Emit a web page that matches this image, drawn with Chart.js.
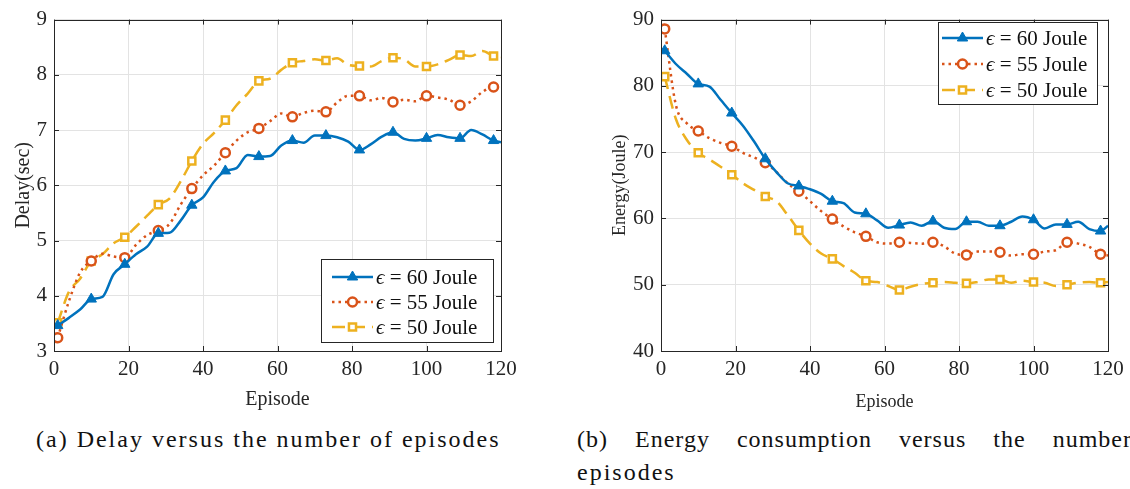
<!DOCTYPE html>
<html>
<head>
<meta charset="utf-8">
<script src="https://cdn.jsdelivr.net/npm/chart.js@4/dist/chart.umd.min.js"></script>
<style>
    body { margin: 0; background: #fff; width: 1130px; height: 489px; overflow: hidden; position: relative; }
    canvas { position: absolute; top: 0; }
    #DelayGraph { left: 0; }
    #EnergyGraph { left: 565px; }
    .caption { position: absolute; font-family: "Liberation Serif", "DejaVu Serif", serif; font-size: 24px; letter-spacing: 2px; color: #111; line-height: 33px; white-space: nowrap; }
    #CaptionA { left: 36px; top: 423px; }
    #CaptionB { left: 577px; top: 423px; width: 555px; white-space: normal; }
    #CaptionB .first { display: block; text-align: justify; text-align-last: justify; letter-spacing: 1px; }
</style>
</head>
<body>
<canvas id="DelayGraph" width="560" height="420"></canvas>
<canvas id="EnergyGraph" width="565" height="420"></canvas>
<div class="caption" id="CaptionA">(a) Delay versus the number of episodes</div>
<div class="caption" id="CaptionB"><span class="first">(b) Energy consumption versus the number</span>episodes</div>

<script>
var episodes = [1, 4, 7, 10, 13, 16, 19, 22, 25, 28, 31, 34, 37, 40, 43, 46, 49, 52, 55, 58,
    61, 64, 67, 70, 73, 76, 79, 82, 85, 88, 91, 94, 97, 100, 103, 106, 109, 112, 115, 118, 120];

var seriesLabels = ["\u03f5 = 60 Joule", "\u03f5 = 55 Joule", "\u03f5 = 50 Joule"];

var delay60 = [3.46, 3.6, 3.75, 3.94, 3.98, 4.39, 4.57, 4.75, 4.89, 5.13, 5.14, 5.36, 5.64, 5.78, 6.07, 6.26, 6.31, 6.55, 6.52, 6.53,
    6.72, 6.81, 6.77, 6.9, 6.9, 6.87, 6.79, 6.64, 6.74, 6.88, 6.96, 6.84, 6.81, 6.85, 6.91, 6.87, 6.85, 7.0, 6.92, 6.81, 6.78];
var delay55 = [3.24, 3.9, 4.42, 4.63, 4.76, 4.71, 4.69, 4.92, 5.1, 5.18, 5.3, 5.65, 5.94, 6.18, 6.36, 6.59, 6.81, 6.96, 7.03, 7.16,
    7.3, 7.24, 7.31, 7.35, 7.33, 7.5, 7.62, 7.62, 7.54, 7.58, 7.51, 7.55, 7.52, 7.62, 7.59, 7.55, 7.45, 7.52, 7.69, 7.78, 7.77];
var delay50 = [3.51, 4.07, 4.31, 4.63, 4.75, 4.95, 5.06, 5.25, 5.45, 5.65, 5.76, 6.07, 6.44, 6.75, 6.95, 7.18, 7.45, 7.66, 7.89, 7.93,
    8.09, 8.22, 8.25, 8.28, 8.26, 8.3, 8.18, 8.16, 8.15, 8.25, 8.31, 8.28, 8.15, 8.15, 8.19, 8.27, 8.36, 8.34, 8.43, 8.34, 8.32];

var energy60 = [85.3, 83.3, 81.8, 80.3, 79.9, 77.9, 75.9, 74.0, 71.6, 69.0, 67.0, 65.3, 64.9, 64.4, 63.7, 62.6, 62.3, 60.9, 60.7, 59.7,
    58.6, 59.0, 59.4, 58.9, 59.6, 58.6, 58.4, 59.5, 59.5, 58.9, 58.9, 59.5, 60.3, 59.8, 58.5, 59.1, 59.1, 59.5, 58.4, 58.1, 58.9];
var energy55 = [88.6, 77.1, 74.3, 73.2, 72.1, 71.4, 70.9, 69.9, 69.2, 68.4, 67.0, 65.3, 64.1, 62.6, 61.1, 59.9, 58.8, 57.9, 57.3, 56.4,
    56.2, 56.4, 56.3, 56.2, 56.4, 55.8, 54.7, 54.5, 55.0, 55.0, 54.9, 54.4, 54.6, 54.6, 55.0, 55.2, 56.4, 56.2, 55.7, 54.6, 54.4];
var energy50 = [81.4, 75.0, 71.8, 69.9, 68.9, 67.8, 66.6, 65.3, 64.3, 63.3, 62.6, 60.5, 58.2, 56.2, 54.7, 53.9, 52.8, 51.8, 50.6, 50.4,
    49.8, 49.2, 49.7, 50.1, 50.3, 50.4, 50.3, 50.2, 50.4, 50.8, 50.8, 50.3, 50.6, 50.4, 50.3, 49.8, 50.0, 50.3, 50.4, 50.3, 50.4];

var xTicks = [0, 20, 40, 60, 80, 100, 120];
var delayTicks = [3, 4, 5, 6, 7, 8, 9];
var energyTicks = [40, 50, 60, 70, 80, 90];

var BLUE = "#0072BD";
var RED = "#D95319";
var YELLOW = "#EDB120";
var AXIS = "#262626";
var FONT = '"Liberation Serif", "DejaVu Serif", serif';

function makePoints(values) {
    return values.map(function (v, i) {
        return { x: episodes[i], y: v };
    });
}

// marker on every 9th episode (1, 10, 19, ...)
function markerRadius(size) {
    return function (ctx) {
        var ep = episodes[ctx.dataIndex];
        return (ep - 1) % 9 === 0 ? size : 0;
    };
}

function makeDatasets(v60, v55, v50) {
    return [{
        label: seriesLabels[0],
        data: makePoints(v60),
        borderColor: BLUE,
        backgroundColor: BLUE,
        borderWidth: 2.5,
        pointStyle: "triangle",
        pointRadius: markerRadius(6),
        pointBorderWidth: 1,
        pointBackgroundColor: BLUE,
        cubicInterpolationMode: "monotone"
    },
    {
        label: seriesLabels[1],
        data: makePoints(v55),
        borderColor: RED,
        backgroundColor: "#fff",
        borderWidth: 2.5,
        borderDash: [2.5, 4],
        pointStyle: "circle",
        pointRadius: markerRadius(4.5),
        pointBorderWidth: 2.5,
        pointBackgroundColor: "#fff",
        cubicInterpolationMode: "monotone"
    },
    {
        label: seriesLabels[2],
        data: makePoints(v50),
        borderColor: YELLOW,
        backgroundColor: "#fff",
        borderWidth: 2.5,
        borderDash: [13, 7],
        pointStyle: "rect",
        pointRadius: markerRadius(5),
        pointBorderWidth: 2.5,
        pointBackgroundColor: "#fff",
        cubicInterpolationMode: "monotone"
    }];
}

// axes box with inward tick marks, like the matlab plots
var boxPlugin = {
    id: "boxPlugin",
    afterDatasetsDraw: function (chart) {
        var ctx = chart.ctx;
        var a = chart.chartArea;
        var x = chart.scales.x;
        var y = chart.scales.y;
        ctx.save();
        ctx.strokeStyle = AXIS;
        ctx.lineWidth = 1;
        ctx.beginPath();
        x.ticks.forEach(function (t) {
            var px = Math.round(x.getPixelForValue(t.value)) + 0.5;
            ctx.moveTo(px, a.bottom); ctx.lineTo(px, a.bottom - 5);
            ctx.moveTo(px, a.top); ctx.lineTo(px, a.top + 5);
        });
        y.ticks.forEach(function (t) {
            var py = Math.round(y.getPixelForValue(t.value)) + 0.5;
            ctx.moveTo(a.left, py); ctx.lineTo(a.left + 5, py);
            ctx.moveTo(a.right, py); ctx.lineTo(a.right - 5, py);
        });
        ctx.stroke();
        ctx.strokeRect(Math.round(a.left) + 0.5, Math.round(a.top) + 0.5,
            Math.round(a.right - a.left), Math.round(a.bottom - a.top));
        ctx.restore();
    }
};

var legendPlugin = {
    id: "boxLegend",
    afterDraw: function (chart, args, opts) {
        var ctx = chart.ctx;
        ctx.save();
        ctx.fillStyle = "#fff";
        ctx.fillRect(opts.x, opts.y, opts.w, opts.h);
        ctx.strokeStyle = AXIS;
        ctx.lineWidth = 1;
        ctx.strokeRect(opts.x + 0.5, opts.y + 0.5, opts.w, opts.h);
        chart.data.datasets.forEach(function (ds, i) {
            var rowY = opts.y + opts.firstRow + i * opts.rowGap;
            var x1 = opts.x + opts.padLeft;
            var x2 = x1 + 41;
            ctx.save();
            ctx.strokeStyle = ds.borderColor;
            ctx.lineWidth = ds.borderWidth;
            ctx.setLineDash(ds.borderDash || []);
            ctx.beginPath();
            ctx.moveTo(x1, rowY);
            ctx.lineTo(x2, rowY);
            ctx.stroke();
            ctx.restore();
            ctx.save();
            ctx.strokeStyle = ds.borderColor;
            ctx.fillStyle = ds.pointBackgroundColor;
            ctx.lineWidth = ds.pointBorderWidth;
            Chart.helpers.drawPoint(ctx, {
                pointStyle: ds.pointStyle,
                radius: ds.pointStyle === "circle" ? 4.5 : (ds.pointStyle === "rect" ? 5 : 6),
                borderWidth: ds.pointBorderWidth,
                rotation: 0
            }, (x1 + x2) / 2, rowY);
            ctx.restore();
            ctx.fillStyle = "#111";
            ctx.textBaseline = "middle";
            ctx.font = "italic 21px " + FONT;
            ctx.fillText("\u03f5", x2 + 3, rowY + 1);
            var w = ctx.measureText("\u03f5").width;
            ctx.font = "21px " + FONT;
            ctx.fillText(ds.label.substring(1), x2 + 3 + w, rowY + 1);
        });
        ctx.restore();
    }
};

function makeScales(yTicks, yTitle, titleSize, yWidth, yTitlePad, xTitlePad) {
    return {
        x: {
            type: "linear",
            min: 0,
            max: 120,
            afterBuildTicks: function (axis) {
                axis.ticks = xTicks.map(function (v) { return { value: v }; });
            },
            afterFit: function (axis) { axis.height = 69; },
            grid: { color: "#e3e3e3", drawTicks: false },
            border: { display: false },
            ticks: { color: AXIS, font: { family: FONT, size: 21 }, padding: 6, maxRotation: 0 },
            title: { display: true, text: "Episode", color: AXIS, font: { family: FONT, size: titleSize }, padding: { top: xTitlePad, bottom: xTitlePad } }
        },
        y: {
            type: "linear",
            min: yTicks[0],
            max: yTicks[yTicks.length - 1],
            afterBuildTicks: function (axis) {
                axis.ticks = yTicks.map(function (v) { return { value: v }; });
            },
            afterFit: function (axis) { axis.width = yWidth; },
            grid: { color: "#e3e3e3", drawTicks: false },
            border: { display: false },
            ticks: { color: AXIS, font: { family: FONT, size: 21 }, padding: 7 },
            title: { display: true, text: yTitle, color: AXIS, font: { family: FONT, size: titleSize }, padding: { top: yTitlePad, bottom: yTitlePad } }
        }
    };
}

function setupDelayGraph() {
    var ctx = document.getElementById("DelayGraph").getContext("2d");
    return new Chart(ctx, {
        type: "line",
        data: { datasets: makeDatasets(delay60, delay55, delay50) },
        options: {
            responsive: false,
            animation: false,
            layout: { padding: { top: 11, right: 59, left: 0, bottom: 0 } },
            scales: makeScales(delayTicks, "Delay(sec)", 20, 54, 12, 8),
            plugins: {
                legend: { display: false },
                tooltip: { enabled: false },
                boxLegend: { x: 321, y: 259, w: 172, h: 83, padLeft: 11, firstRow: 18, rowGap: 25 }
            }
        },
        plugins: [boxPlugin, legendPlugin]
    });
}

function setupEnergyGraph() {
    var ctx = document.getElementById("EnergyGraph").getContext("2d");
    return new Chart(ctx, {
        type: "line",
        data: { datasets: makeDatasets(energy60, energy55, energy50) },
        options: {
            responsive: false,
            animation: false,
            layout: { padding: { top: 12, right: 22, left: 0, bottom: 0 } },
            scales: makeScales(energyTicks, "Energy(Joule)", 18, 96, 44, 7),
            plugins: {
                legend: { display: false },
                tooltip: { enabled: false },
                boxLegend: { x: 373, y: 22, w: 159, h: 82, padLeft: 4, firstRow: 16, rowGap: 26 }
            }
        },
        plugins: [boxPlugin, legendPlugin]
    });
}

setupDelayGraph();
setupEnergyGraph();
</script>
</body>
</html>
